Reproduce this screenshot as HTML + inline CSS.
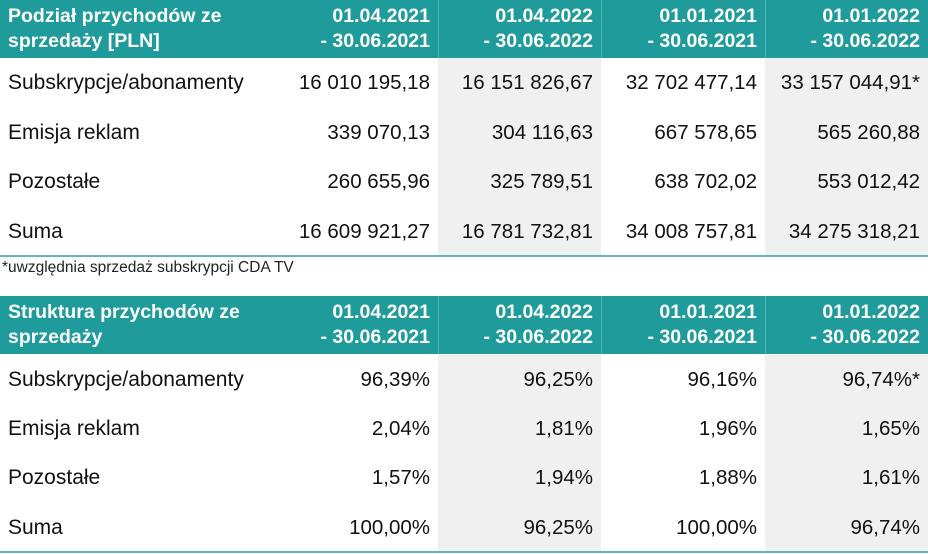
<!DOCTYPE html>
<html><head><meta charset="utf-8"><style>
body{margin:0;width:928px;height:554px;background:#fff;overflow:hidden;font-family:"Liberation Sans",sans-serif;}
.tbl{position:absolute;left:0;width:928px;}
.hdr{position:absolute;left:0;width:928px;height:58px;background:#1f9b9b;color:#fff;font-weight:bold;font-size:19.5px;}
.hdr div{position:absolute;top:4px;line-height:25px;}
.sep{position:absolute;top:0;width:1px;height:58px;background:#4fb6b6;}
.grey{position:absolute;background:#f0f0f0;}
.row{position:absolute;left:0;width:928px;height:49px;font-size:20.5px;color:#111;}
.row div{position:absolute;top:13px;}
.row div:first-child{font-size:21px;}
.bl{position:absolute;left:0;width:928px;height:2px;background:#5fb8b8;}
</style></head><body>
<div class="tbl" style="top:0">
 <div class="grey" style="left:438px;top:58px;width:163px;height:198px"></div>
 <div class="grey" style="left:765px;top:58px;width:163px;height:198px"></div>
 <div class="hdr">
  <div style="left:8px">Podział przychodów ze<br>sprzedaży [PLN]</div>
  <div style="right:498px;text-align:right">01.04.2021<br>- 30.06.2021</div>
  <div style="right:335px;text-align:right">01.04.2022<br>- 30.06.2022</div>
  <div style="right:171px;text-align:right">01.01.2021<br>- 30.06.2021</div>
  <div style="right:8px;text-align:right">01.01.2022<br>- 30.06.2022</div>
  <span class="sep" style="left:438px"></span><span class="sep" style="left:601px"></span><span class="sep" style="left:765px"></span>
 </div>
 <div class="row" style="top:58px"><div style="left:8px">Subskrypcje/abonamenty</div><div style="right:498px">16 010 195,18</div><div style="right:335px">16 151 826,67</div><div style="right:171px">32 702 477,14</div><div style="right:8px">33 157 044,91*</div></div>
 <div class="row" style="top:108px"><div style="left:8px">Emisja reklam</div><div style="right:498px">339 070,13</div><div style="right:335px">304 116,63</div><div style="right:171px">667 578,65</div><div style="right:8px">565 260,88</div></div>
 <div class="row" style="top:157px"><div style="left:8px">Pozostałe</div><div style="right:498px">260 655,96</div><div style="right:335px">325 789,51</div><div style="right:171px">638 702,02</div><div style="right:8px">553 012,42</div></div>
 <div class="row" style="top:207px"><div style="left:8px">Suma</div><div style="right:498px">16 609 921,27</div><div style="right:335px">16 781 732,81</div><div style="right:171px">34 008 757,81</div><div style="right:8px">34 275 318,21</div></div>
 <div class="bl" style="top:255px"></div>
</div>
<div style="position:absolute;left:2px;top:259px;font-size:15.5px;color:#222">*uwzględnia sprzedaż subskrypcji CDA TV</div>
<div class="tbl" style="top:0">
 <div class="grey" style="left:438px;top:355px;width:163px;height:197px"></div>
 <div class="grey" style="left:765px;top:355px;width:163px;height:197px"></div>
 <div class="hdr" style="top:296px">
  <div style="left:8px">Struktura przychodów ze<br>sprzedaży</div>
  <div style="right:498px;text-align:right">01.04.2021<br>- 30.06.2021</div>
  <div style="right:335px;text-align:right">01.04.2022<br>- 30.06.2022</div>
  <div style="right:171px;text-align:right">01.01.2021<br>- 30.06.2021</div>
  <div style="right:8px;text-align:right">01.01.2022<br>- 30.06.2022</div>
  <span class="sep" style="left:438px"></span><span class="sep" style="left:601px"></span><span class="sep" style="left:765px"></span>
 </div>
 <div class="row" style="top:355px"><div style="left:8px">Subskrypcje/abonamenty</div><div style="right:498px">96,39%</div><div style="right:335px">96,25%</div><div style="right:171px">96,16%</div><div style="right:8px">96,74%*</div></div>
 <div class="row" style="top:404px"><div style="left:8px">Emisja reklam</div><div style="right:498px">2,04%</div><div style="right:335px">1,81%</div><div style="right:171px">1,96%</div><div style="right:8px">1,65%</div></div>
 <div class="row" style="top:453px"><div style="left:8px">Pozostałe</div><div style="right:498px">1,57%</div><div style="right:335px">1,94%</div><div style="right:171px">1,88%</div><div style="right:8px">1,61%</div></div>
 <div class="row" style="top:503px"><div style="left:8px">Suma</div><div style="right:498px">100,00%</div><div style="right:335px">96,25%</div><div style="right:171px">100,00%</div><div style="right:8px">96,74%</div></div>
 <div class="bl" style="top:551px"></div>
</div>
</body></html>
